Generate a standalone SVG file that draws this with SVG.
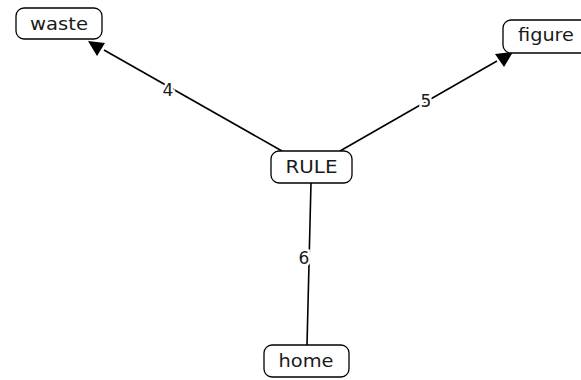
<svg xmlns="http://www.w3.org/2000/svg" width="581" height="380" viewBox="0 0 581 380">
<defs>
<style>
.box{fill:#fff;stroke:#000;stroke-width:1.3}
.t{font-family:"DejaVu Sans",sans-serif;font-size:17px;fill:#1a1a1a;text-anchor:middle}
.e{stroke:#000;stroke-width:1.6;fill:none}
.lbl{font-family:"DejaVu Sans",sans-serif;font-size:17px;fill:#1a1a1a;text-anchor:middle;stroke:#fff;stroke-width:5;paint-order:stroke}
</style>
</defs>
<g id="connectors">
<line class="e" x1="282" y1="151" x2="104" y2="50"/>
<path d="M88,41 L105,43 L97,56 z" fill="#000"/>
<line class="e" x1="340" y1="151" x2="497" y2="61"/>
<path d="M513,52 L504,67 L495,54 z" fill="#000"/>
<line class="e" x1="311" y1="183" x2="307" y2="345"/>
<text class="lbl" x="168" y="96">4</text>
<text class="lbl" x="426" y="107">5</text>
<text class="lbl" x="304" y="264">6</text>
</g>
<g id="waste">
<rect class="box" x="16" y="8" width="86" height="31" rx="8"/>
<text class="t" x="59" y="30" textLength="58" lengthAdjust="spacingAndGlyphs">waste</text>
</g>
<g id="figure">
<rect class="box" x="503" y="20" width="86" height="33" rx="8"/>
<text class="t" x="546" y="41" textLength="56" lengthAdjust="spacingAndGlyphs">figure</text>
</g>
<g id="RULE">
<rect class="box" x="271" y="151" width="81" height="32" rx="8"/>
<text class="t" x="311.5" y="173" textLength="52" lengthAdjust="spacingAndGlyphs">RULE</text>
</g>
<g id="home">
<rect class="box" x="264" y="345" width="85" height="32" rx="8"/>
<text class="t" x="306" y="367" textLength="55" lengthAdjust="spacingAndGlyphs">home</text>
</g>
</svg>
